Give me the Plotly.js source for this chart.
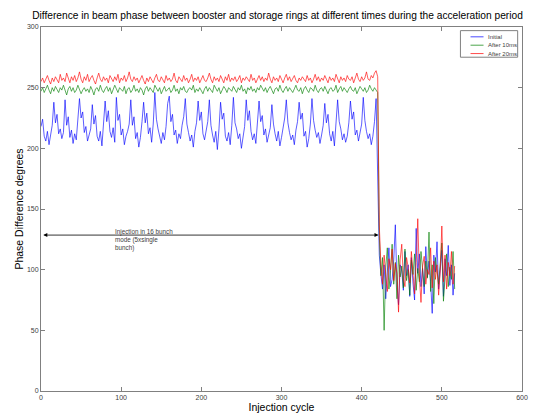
<!DOCTYPE html>
<html>
<head>
<meta charset="utf-8">
<script src="https://cdn.plot.ly/plotly-3.0.1.min.js"></script>
<style>html,body{margin:0;padding:0;background:#fff;}#chart{width:542px;height:413px;}</style>
</head>
<body>
<div id="chart"></div>
<script>
// Injection cycles sampled every 2 cycles (0..516)
const cycleStart = 0;
const cycleStep = 2;

// Initial (blue), before the drop (cycles 0..420)
const initialPre = [
218,224,210,206,214,203,211,219,238,221,228,212,216,208,213,240,219,226,209,215,
204,212,207,221,241,225,230,213,218,206,211,216,236,220,227,210,206,214,202,218,
239,222,231,214,209,217,205,242,223,228,211,216,203,210,214,220,240,219,226,208,
213,201,209,222,238,221,229,212,217,205,220,246,224,216,210,204,213,207,218,237,
243,222,228,211,215,204,212,208,219,226,241,220,213,206,211,201,214,221,239,223,
230,212,207,215,222,240,219,211,205,214,199,216,238,224,229,210,206,213,203,219,
242,221,216,208,212,200,209,218,240,223,231,214,207,212,204,220,239,222,227,211,
216,205,210,217,236,220,212,206,214,202,209,218,225,240,221,213,207,211,203,215,
222,238,224,229,210,214,201,208,220,241,223,215,209,213,204,211,219,237,221,228,
212,206,214,202,218,240,222,216,207,212,205,210,221,239,224,230,211,215,206,213,
220,242,223,214,208,212,203,210,222,241,188];
// Initial (blue), after the drop (cycles 422..516)
const initialPost = [
112,96,84,104,76,98,118,86,92,108,137,88,71,104,99,83,115,95,104,78,
110,89,75,134,97,113,86,101,80,119,94,107,90,64,112,98,123,84,102,116,
78,109,95,120,87,104,79,97];

// After 10ms (green)
const after10Pre = [
247,250,246,249,252,248,245,250,247,251,249,246,250,248,252,247,244,249,251,247,
250,246,248,252,249,245,248,250,247,249,246,251,248,244,249,250,247,252,248,246,
249,251,247,250,245,248,252,249,246,250,248,247,251,245,249,250,246,248,252,247,
249,246,250,248,244,249,251,247,250,248,246,252,249,247,250,245,248,251,247,249,
250,246,248,252,247,249,245,250,248,251,247,246,249,250,248,252,246,249,247,250,
248,245,249,251,247,250,248,246,252,249,247,250,245,248,251,249,246,250,248,247,
251,249,246,250,248,252,247,249,245,250,248,251,247,249,246,250,248,252,249,247,
250,246,249,251,248,245,249,250,247,252,248,246,249,251,247,250,248,246,249,252,
248,247,250,245,249,251,248,246,250,249,247,252,248,246,249,250,247,251,248,245,
249,250,247,248,252,246,249,251,247,250,248,246,249,251,248,247,250,245,248,251,
249,247,250,246,248,252,249,247,250,248,246];
const after10Post = [
128,95,110,50,102,118,84,99,121,88,106,76,112,94,103,85,117,91,100,79,
108,96,113,83,101,90,115,98,86,107,93,131,82,104,72,110,96,88,105,122,
74,99,113,86,102,92,115,84];

// After 20ms (red)
const after20Pre = [
255,258,254,257,260,256,253,258,255,259,257,254,261,256,258,255,262,257,254,259,
256,260,255,258,263,257,254,259,256,261,255,258,260,256,253,258,262,257,255,259,
256,258,254,260,257,255,259,256,261,254,258,256,260,255,258,263,257,255,259,256,
258,254,257,260,256,253,258,255,259,257,254,258,261,256,255,259,257,254,260,256,
258,255,257,262,256,254,259,257,255,260,256,258,254,257,261,255,258,256,259,254,
257,260,256,255,258,262,257,254,259,256,258,255,260,257,254,259,256,261,255,258,
256,259,255,257,260,254,258,256,259,257,255,261,256,258,254,257,260,256,259,255,
258,256,262,257,254,259,256,258,255,260,257,254,258,261,256,259,255,257,260,256,
254,258,256,259,257,255,260,256,258,254,257,261,256,259,255,258,256,260,257,254,
259,256,258,255,261,257,254,259,256,258,255,260,257,256,259,254,258,262,257,255,
259,256,258,263,257,256,260,258,262,264,259];
const after20Post = [
136,104,88,112,95,82,109,100,117,91,105,97,65,108,121,93,86,110,102,89,
115,98,80,106,142,94,73,103,111,88,100,96,118,85,107,92,104,79,99,136,
90,112,84,106,95,115,88,103];

const seriesNames = ["Initial", "After 10ms", "After 20ms"];
const seriesColors = ["#0000ff", "#008000", "#ff0000"];
const annotationText = "Injection in 16 bunch<br>mode (5xsingle<br>bunch)";

const initial = initialPre.concat(initialPost);
const after10 = after10Pre.concat(after10Post);
const after20 = after20Pre.concat(after20Post);
const cycles = initial.map((_, i) => cycleStart + i * cycleStep);

const seriesValues = [initial, after10, after20];
const traces = seriesValues.map((vals, k) => ({
  type: "scatter", mode: "lines", name: seriesNames[k],
  x: cycles, y: vals,
  line: {color: seriesColors[k], width: 0.8},
  opacity: 0.8,
  showlegend: false, hoverinfo: "skip"
}));

const font = "Liberation Sans, Arial, sans-serif";
const axisCommon = {
  showgrid: false, zeroline: false, showline: true, mirror: "ticks",
  linecolor: "#808080", linewidth: 1, ticks: "inside", ticklen: 4,
  tickcolor: "#808080", tickfont: {family: font, size: 7, color: "#404040"}
};

// manual legend (box, sample lines, labels) in paper coordinates
const legX0 = 0.872, legX1 = 0.991, legY0 = 0.917, legY1 = 0.990;
const rowY = [0.973, 0.950, 0.927];
const shapes = [{type: "rect", xref: "paper", yref: "paper", x0: legX0, x1: legX1, y0: legY0, y1: legY1,
  line: {color: "#808080", width: 1}, fillcolor: "#ffffff"}];
const annotations = [];
rowY.forEach((yy, k) => {
  shapes.push({type: "line", xref: "paper", yref: "paper", x0: 0.893, x1: 0.920, y0: yy, y1: yy,
    line: {color: seriesColors[k], width: 1}, opacity: 0.7});
  annotations.push({xref: "paper", yref: "paper", x: 0.926, y: yy, xanchor: "left", yanchor: "middle",
    text: seriesNames[k], showarrow: false, font: {family: font, size: 6, color: "#404040"}});
});
// double-headed arrow spanning the 16-bunch injection period
annotations.push({x: 421, y: 128.5, ax: 1, ay: 128.5, xref: "x", yref: "y", axref: "x", ayref: "y",
  text: "", showarrow: true, arrowside: "end+start", arrowhead: 2, arrowsize: 1, arrowwidth: 0.8, arrowcolor: "#000"});
annotations.push({x: 90, y: 136, xref: "x", yref: "y", xanchor: "left", yanchor: "top", align: "left",
  text: annotationText, showarrow: false, font: {family: font, size: 6.3, color: "#404040"}});

const layout = {
  width: 542, height: 413,
  margin: {l: 41, r: 20, t: 27, b: 22},
  paper_bgcolor: "#ffffff", plot_bgcolor: "#ffffff",
  title: {text: "Difference in beam phase between booster and storage rings at different times during the acceleration period",
    font: {family: font, size: 10.2, color: "#000"}, x: 0.512, xanchor: "center", y: 0.962, yanchor: "middle"},
  xaxis: Object.assign({}, axisCommon, {range: [0, 600], tickvals: [0,100,200,300,400,500,600],
    title: {text: "Injection cycle", font: {family: font, size: 10.5, color: "#000"}, standoff: 3}}),
  yaxis: Object.assign({}, axisCommon, {range: [0, 300], tickvals: [0,50,100,150,200,250,300],
    title: {text: "Phase Difference degrees", font: {family: font, size: 10.5, color: "#000"}, standoff: 1}}),
  shapes: shapes, annotations: annotations
};

Plotly.newPlot("chart", traces, layout, {displayModeBar: false, staticPlot: true});
</script>
</body>
</html>
